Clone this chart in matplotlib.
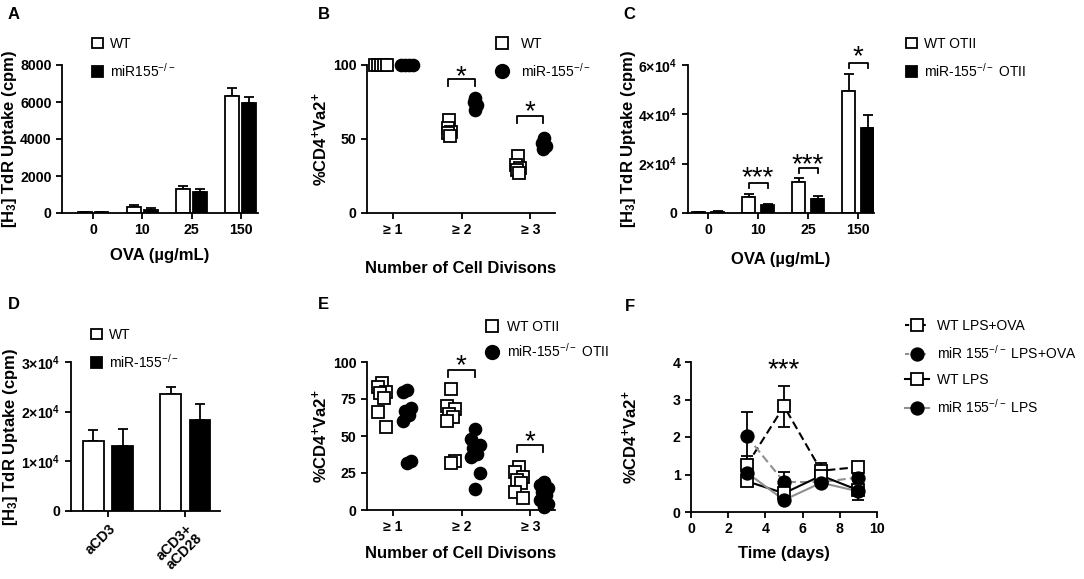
import numpy as np
import matplotlib
matplotlib.use('Agg')
import matplotlib.pyplot as plt
from matplotlib.lines import Line2D
from matplotlib.patches import Patch

plt.rcParams['font.family'] = ['Liberation Sans', 'DejaVu Sans']
plt.rcParams['mathtext.default'] = 'regular'
plt.rcParams['axes.linewidth'] = 1.3
plt.rcParams['xtick.major.width'] = 1.3
plt.rcParams['ytick.major.width'] = 1.3
plt.rcParams['xtick.major.size'] = 4
plt.rcParams['ytick.major.size'] = 4

# ---------------- data ----------------
ova_doses = ['0', '10', '25', '150']
a_wt = [50, 320, 1300, 6350]
a_wt_err = [30, 90, 170, 390]
a_ko = [30, 180, 1115, 5935]
a_ko_err = [20, 70, 165, 325]

div_labels = ['\u2265 1', '\u2265 2', '\u2265 3']
b_wt = [[100, 100, 100, 100, 100], [62.9, 57.3, 55, 54, 52], [38.2, 32.6, 30.3, 29.2, 27]]
b_ko = [[100, 100, 100, 100], [77.5, 75.3, 73, 69.7], [50.6, 47.2, 45, 43]]

c_wt = [400, 6400, 12750, 49400]
c_wt_err = [200, 1400, 1350, 7000]
c_ko = [600, 3100, 5600, 34600]
c_ko_err = [200, 650, 1400, 5000]

d_labels = ['aCD3', 'aCD3+\naCD28']
d_wt = [14100, 23600]
d_wt_err = [2200, 1400]
d_ko = [13000, 18300]
d_ko_err = [3500, 3300]

e_wt = [[86, 83, 80, 79, 76, 66, 56], [82, 70, 68, 65, 63, 60, 33, 32], [29, 26, 22, 20, 18, 12, 8]]
e_ko = [[81, 80, 69, 67, 64, 60, 33, 32], [55, 48, 44, 42, 38, 36, 25, 14], [19, 17, 15, 12, 10, 7, 4, 2]]

f_days = [3, 5, 7, 9]
f_wt_lpsova = [1.25, 2.82, 1.1, 1.2]
f_wt_lpsova_err = [0.25, 0.55, 0.2, 0.12]
f_ko_lpsova = [2.02, 0.8, 0.8, 0.92]
f_ko_lpsova_err = [0.66, 0.27, 0.1, 0.1]
f_wt_lps = [0.82, 0.5, 0.97, 0.58]
f_wt_lps_err = [0.1, 0.1, 0.1, 0.27]
f_ko_lps = [1.05, 0.32, 0.78, 0.55]
f_ko_lps_err = [0.1, 0.05, 0.05, 0.05]

W, H = 1084, 579
fig = plt.figure(figsize=(W / 100, H / 100), dpi=100)

def rect(l, r, t, b):
    return [l / W, 1 - b / H, (r - l) / W, (b - t) / H]

TICK_FS = 10.2
LAB_FS = 12
LEG_FS = 10
STAR_FS = 20
GRAY = '#8f8f8f'

def style(ax):
    for s in ['top', 'right']:
        ax.spines[s].set_visible(False)
    for lab in ax.get_xticklabels() + ax.get_yticklabels():
        lab.set_fontweight('bold')
        lab.set_fontsize(TICK_FS)

def sig(ax, x1, x2, ybar, yleg, ystar, text):
    ax.plot([x1, x1, x2, x2], [yleg, ybar, ybar, yleg], color='k', lw=1.3, clip_on=False)
    ax.annotate(text, xy=((x1 + x2) / 2, ystar), xytext=(0, -0.74 * STAR_FS),
                textcoords='offset points', ha='center', va='baseline',
                fontsize=STAR_FS, annotation_clip=False)

def legend(ax, handles, labels, x, y, **kw):
    opts = dict(frameon=False, fontsize=LEG_FS, borderpad=0, borderaxespad=0,
                handletextpad=0.5, labelspacing=0.75)
    opts.update(kw)
    ax.legend(handles, labels, loc='upper left', bbox_to_anchor=(x / W, 1 - y / H),
              bbox_transform=fig.transFigure, **opts)

def bars(ax, wt, wt_err, ko, ko_err, off, width):
    x = np.arange(len(wt))
    ax.bar(x - off, wt, width, color='white', edgecolor='k', lw=1.3, zorder=2)
    ax.bar(x + off, ko, width, color='k', edgecolor='k', lw=1.3, zorder=2)
    ax.errorbar(x - off, wt, yerr=[np.zeros(len(wt)), wt_err], fmt='none', ecolor='k',
                elinewidth=1.3, capsize=3.5, capthick=1.3, zorder=1)
    ax.errorbar(x + off, ko, yerr=[np.zeros(len(ko)), ko_err], fmt='none', ecolor='k',
                elinewidth=1.3, capsize=3.5, capthick=1.3, zorder=1)

def dots(ax, groups, off, marker, filled, amp):
    for i, vals in enumerate(groups):
        n = len(vals)
        if len(set(vals)) == 1:
            jit = np.linspace(-0.09, 0.09, n)
        else:
            pattern = np.array([0, -1, 1, -0.5, 0.5, -1, 1, 0])
            jit = amp * pattern[np.arange(n) % len(pattern)]
        ax.plot(i + off + jit, vals, ls='none', marker=marker, ms=8.5,
                mfc='k' if filled else 'white', mec='k', mew=1.3, clip_on=False, zorder=3)

bar_wt_h = Patch(facecolor='white', edgecolor='k', lw=1.3)
bar_ko_h = Patch(facecolor='k', edgecolor='k', lw=1.3)
sq_h = Line2D([], [], ls='none', marker='s', ms=9, mfc='white', mec='k', mew=1.3)
ci_h = Line2D([], [], ls='none', marker='o', ms=10, mfc='k', mec='k')

# ---------------- A ----------------
axA = fig.add_axes(rect(62, 258, 65, 213))
bars(axA, a_wt, a_wt_err, a_ko, a_ko_err, 0.17, 0.28)
axA.set_xlim(-0.63, 3.35)
axA.set_ylim(0, 8000)
axA.set_yticks([0, 2000, 4000, 6000, 8000])
axA.set_xticks(range(4))
axA.set_xticklabels(ova_doses)
axA.set_xlabel('OVA (\u00b5g/mL)', fontsize=LAB_FS, fontweight='bold')
axA.set_ylabel('[H$_3$] TdR Uptake (cpm)', fontsize=LAB_FS, fontweight='bold')
axA.yaxis.set_label_coords(-0.218, 0.5)
axA.xaxis.set_label_coords(0.5, -0.236)
style(axA)
legend(axA, [bar_wt_h, bar_ko_h], ['WT', 'miR155$^{-/-}$'], 92, 37,
       handlelength=0.8, handleheight=0.8)

# ---------------- B ----------------
axB = fig.add_axes(rect(367, 555, 65, 213))
dots(axB, b_wt, -0.18, 's', False, 0.025)
dots(axB, b_ko, 0.2, 'o', True, 0.025)
axB.set_xlim(-0.38, 2.36)
axB.set_ylim(0, 100)
axB.set_yticks([0, 50, 100])
axB.set_xticks(range(3))
axB.set_xticklabels(div_labels)
axB.set_xlabel('Number of Cell Divisons', fontsize=LAB_FS, fontweight='bold')
axB.set_ylabel('%CD4$^{+}$Va2$^{+}$', fontsize=LAB_FS, fontweight='bold')
axB.yaxis.set_label_coords(-0.197, 0.5)
axB.xaxis.set_label_coords(0.5, -0.324)
style(axB)
sig(axB, 0.8, 1.19, 90.5, 86, 101, '*')
sig(axB, 1.8, 2.19, 65.5, 61, 77, '*')
legend(axB, [sq_h, ci_h], ['WT', 'miR-155$^{-/-}$'], 495, 37, handlelength=1.0,
       handletextpad=0.9)

# ---------------- C ----------------
axC = fig.add_axes(rect(688, 874, 65, 213))
bars(axC, c_wt, c_wt_err, c_ko, c_ko_err, 0.19, 0.26)
axC.set_xlim(-0.4, 3.32)
axC.set_ylim(0, 60000)
axC.set_yticks([0, 20000, 40000, 60000])
axC.set_yticklabels(['0', '2\u00d710$^4$', '4\u00d710$^4$', '6\u00d710$^4$'])
axC.set_xticks(range(4))
axC.set_xticklabels(ova_doses)
axC.set_xlabel('OVA (\u00b5g/mL)', fontsize=LAB_FS, fontweight='bold')
axC.set_ylabel('[H$_3$] TdR Uptake (cpm)', fontsize=LAB_FS, fontweight='bold')
axC.yaxis.set_label_coords(-0.27, 0.5)
axC.xaxis.set_label_coords(0.5, -0.264)
style(axC)
sig(axC, 0.81, 1.19, 12350, 10000, 19500, '***')
sig(axC, 1.81, 2.19, 18400, 16100, 24800, '***')
sig(axC, 2.81, 3.19, 61000, 58800, 68500, '*')
legend(axC, [bar_wt_h, bar_ko_h], ['WT OTII', 'miR-155$^{-/-}$ OTII'], 906, 37,
       handlelength=0.8, handleheight=0.8)

# ---------------- D ----------------
axD = fig.add_axes(rect(71, 220, 362, 511))
bars(axD, d_wt, d_wt_err, d_ko, d_ko_err, 0.19, 0.27)
axD.set_xlim(-0.48, 1.45)
axD.set_ylim(0, 30000)
axD.set_yticks([0, 10000, 20000, 30000])
axD.set_yticklabels(['0', '1\u00d710$^4$', '2\u00d710$^4$', '3\u00d710$^4$'])
axD.set_xticks(range(2))
axD.set_xticklabels(d_labels, rotation=45, ha='right', rotation_mode='anchor', linespacing=1.0)
axD.set_ylabel('[H$_3$] TdR Uptake (cpm)', fontsize=LAB_FS, fontweight='bold')
axD.yaxis.set_label_coords(-0.345, 0.5)
style(axD)
legend(axD, [bar_wt_h, bar_ko_h], ['WT', 'miR-155$^{-/-}$'], 91, 328,
       handlelength=0.8, handleheight=0.8)

# ---------------- E ----------------
axE = fig.add_axes(rect(367, 555, 362, 510))
dots(axE, e_wt, -0.16, 's', False, 0.06)
dots(axE, e_ko, 0.2, 'o', True, 0.06)
axE.set_xlim(-0.38, 2.36)
axE.set_ylim(0, 100)
axE.set_yticks([0, 25, 50, 75, 100])
axE.set_xticks(range(3))
axE.set_xticklabels(div_labels)
axE.set_xlabel('Number of Cell Divisons', fontsize=LAB_FS, fontweight='bold')
axE.set_ylabel('%CD4$^{+}$Va2$^{+}$', fontsize=LAB_FS, fontweight='bold')
axE.yaxis.set_label_coords(-0.197, 0.5)
axE.xaxis.set_label_coords(0.5, -0.243)
style(axE)
sig(axE, 0.8, 1.19, 94.6, 90, 106, '*')
sig(axE, 1.8, 2.19, 44, 39, 55, '*')
legend(axE, [sq_h, ci_h], ['WT OTII', 'miR-155$^{-/-}$ OTII'], 485, 320, handlelength=1.0,
       handletextpad=0.6, labelspacing=0.55)

# ---------------- F ----------------
axF = fig.add_axes(rect(691, 877, 362, 512))
series = [
    (f_wt_lpsova, f_wt_lpsova_err, 'k', '--', 's', 'white', 'WT LPS+OVA'),
    (f_ko_lpsova, f_ko_lpsova_err, GRAY, '--', 'o', 'k', 'miR 155$^{-/-}$ LPS+OVA'),
    (f_wt_lps, f_wt_lps_err, 'k', '-', 's', 'white', 'WT LPS'),
    (f_ko_lps, f_ko_lps_err, GRAY, '-', 'o', 'k', 'miR 155$^{-/-}$ LPS'),
]
handles = []
for vals, err, col, ls, mk, mfc, lab in series:
    axF.errorbar(f_days, vals, yerr=err, fmt='none', ecolor='k', elinewidth=1.3,
                 capsize=4, capthick=1.3, zorder=2)
    line, = axF.plot(f_days, vals, color=col, ls=ls, lw=1.5, zorder=3)
    if ls == '--':
        line.set_dashes((4, 2))
    axF.plot(f_days, vals, ls='none', marker=mk, ms=9, mfc=mfc, mec='k', mew=1.3, zorder=4)
    h = Line2D([], [], color=col, ls=ls, lw=1.5, marker=mk, ms=9, mfc=mfc, mec='k', mew=1.3)
    if ls == '--':
        h.set_dashes((2, 2))
    handles.append(h)
axF.set_xlim(0, 10)
axF.set_ylim(0, 4)
axF.set_xticks([0, 2, 4, 6, 8, 10])
axF.set_yticks([0, 1, 2, 3, 4])
axF.set_xlabel('Time (days)', fontsize=LAB_FS, fontweight='bold')
axF.set_ylabel('%CD4$^{+}$Va2$^{+}$', fontsize=LAB_FS, fontweight='bold')
axF.yaxis.set_label_coords(-0.274, 0.5)
axF.xaxis.set_label_coords(0.5, -0.227)
style(axF)
axF.annotate('***', xy=(5.0, 4.14), xytext=(0, -0.74 * STAR_FS), textcoords='offset points',
             ha='center', va='baseline', fontsize=STAR_FS, annotation_clip=False)
legend(axF, handles, [s[-1] for s in series], 905, 319, handlelength=1.7,
       handletextpad=0.6, labelspacing=0.8, fontsize=10)

# ---------------- panel letters ----------------
for letter, x, y in [('A', 8, 7), ('B', 318, 7), ('C', 623, 7),
                     ('D', 8, 297), ('E', 318, 297), ('F', 625, 299)]:
    fig.text(x / W, 1 - y / H, letter, fontsize=12, fontweight='bold', ha='left', va='top')

fig.savefig('out.png', dpi=100)
